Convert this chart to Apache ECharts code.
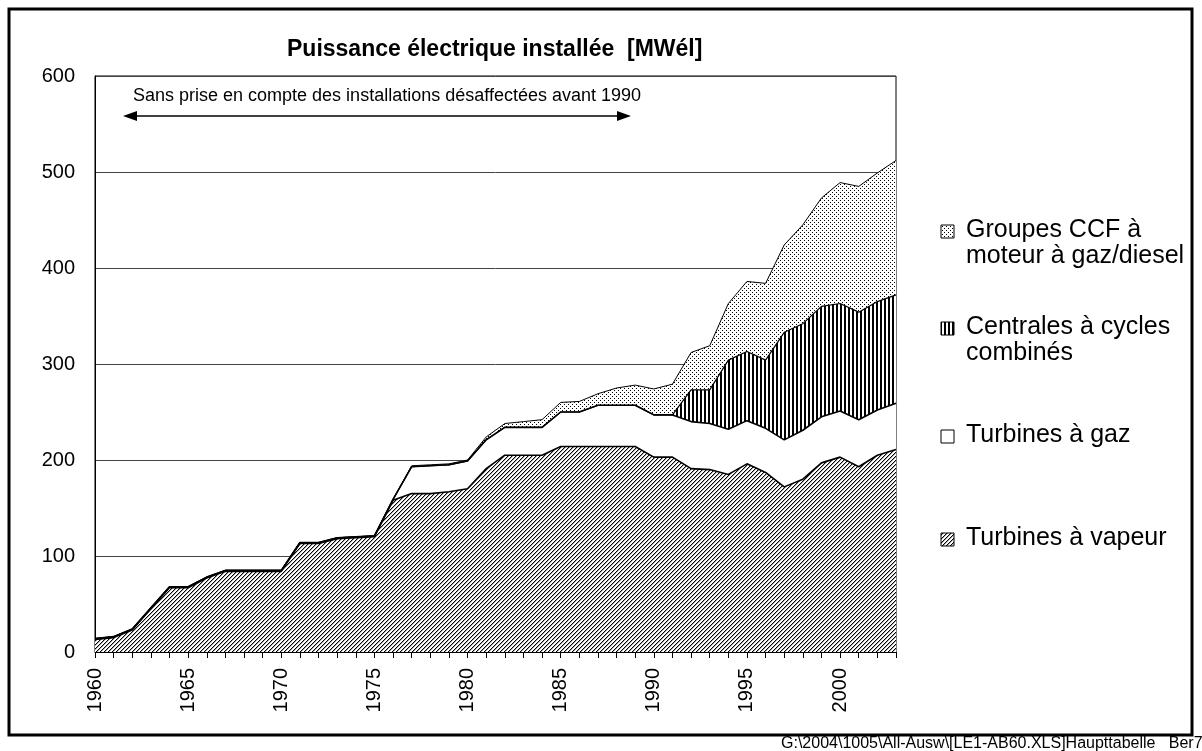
<!DOCTYPE html>
<html>
<head>
<meta charset="utf-8">
<script src="https://cdn.jsdelivr.net/npm/echarts@6/dist/echarts.min.js"></script>
<style>
  html, body { margin: 0; padding: 0; background: #fff; }
  #chart { width: 1202px; height: 751px; }
</style>
</head>
<body>
<div id="chart"></div>
<script>
const years = ['1960','1961','1962','1963','1964','1965','1966','1967','1968','1969',
  '1970','1971','1972','1973','1974','1975','1976','1977','1978','1979',
  '1980','1981','1982','1983','1984','1985','1986','1987','1988','1989',
  '1990','1991','1992','1993','1994','1995','1996','1997','1998','1999',
  '2000','2001','2002','2003']

// MWél per category, stacked bottom to top
const vapeur = [13, 15, 23, 45, 67, 67, 77, 84, 84, 84,
  84, 113, 113, 118, 119, 120, 158, 165, 165, 167,
  170, 191, 205, 205, 205, 214, 214, 214, 214, 214,
  203, 203, 191, 190, 185, 196, 187, 172, 180, 197,
  203, 193, 205, 211]
const gaz = [1, 1, 1, 1, 1, 1, 1, 1, 1, 1,
  1, 1, 1, 1, 1, 1, 1, 28, 29, 28,
  29, 30, 29, 29, 29, 36, 36, 43, 43, 43,
  44, 44, 49, 48, 47, 45, 46, 49, 51, 48,
  48, 49, 47, 48]
const cycles = [0, 0, 0, 0, 0, 0, 0, 0, 0, 0,
  0, 0, 0, 0, 0, 0, 0, 0, 0, 0,
  0, 0, 0, 0, 0, 0, 0, 0, 0, 0,
  0, 0, 33, 35, 72, 72, 71, 112, 111, 115,
  112, 112, 113, 113]
const ccf = [0, 0, 0, 0, 0, 0, 0, 0, 0, 0,
  0, 0, 0, 0, 0, 0, 0, 1, 1, 1,
  1, 3, 4, 6, 8, 10, 11, 12, 18, 21,
  27, 32, 39, 46, 59, 73, 80, 91, 103, 113,
  126, 131, 134, 140]

const yTicks = [0, 100, 200, 300, 400, 500, 600]

const FONT = '"Liberation Sans", Arial, Helvetica, sans-serif'

function pattern (w, h, draw) {
  const c = document.createElement('canvas')
  c.width = w
  c.height = h
  const ctx = c.getContext('2d')
  ctx.fillStyle = '#fff'
  ctx.fillRect(0, 0, w, h)
  draw(ctx)
  return { image: c, repeat: 'repeat' }
}

const hatch = pattern(4, 4, ctx => {
  for (let y = 0; y < 4; y++) {
    ctx.fillStyle = '#000'
    ctx.fillRect(3 - y, y, 1, 1)
    ctx.fillStyle = '#aaa'
    ctx.fillRect((4 - y) % 4, y, 1, 1)
  }
})
const stripes = pattern(4, 1, ctx => {
  ctx.fillStyle = '#000'
  ctx.fillRect(0, 0, 2, 1)
})
const dots = pattern(4, 4, ctx => {
  ctx.fillStyle = '#000'
  ctx.fillRect(0, 0, 1, 1)
  ctx.fillRect(2, 2, 1, 1)
})

function areaSeries (name, data, fill, width) {
  return {
    name: name,
    type: 'line',
    stack: 'total',
    data: data,
    symbol: 'none',
    smooth: false,
    lineStyle: { color: '#000', width: width },
    areaStyle: { color: fill, opacity: 1 },
    emphasis: { disabled: true },
    animation: false
  }
}

function legendItem (y, fill, label) {
  return [
    {
      type: 'rect',
      shape: { x: 941, y: y + 8, width: 13, height: 13 },
      style: { fill: fill, stroke: '#000', lineWidth: 1 }
    },
    {
      type: 'text',
      x: 966,
      y: y,
      style: { text: label, font: '25px ' + FONT, fill: '#000', lineHeight: 26 }
    }
  ]
}

const chart = echarts.init(document.getElementById('chart'))

const option = {
  backgroundColor: '#fff',
  animation: false,
  title: {
    text: 'Puissance électrique installée  [MWél]',
    left: 282,
    top: 33,
    textStyle: { fontFamily: FONT, fontSize: 23, fontWeight: 'bold', color: '#000' }
  },
  grid: {
    left: 95,
    right: 306,
    top: 76,
    bottom: 99,
    show: true,
    borderColor: '#000',
    borderWidth: 1,
    backgroundColor: 'transparent'
  },
  xAxis: {
    type: 'category',
    data: years,
    boundaryGap: false,
    axisLine: { lineStyle: { color: '#000', width: 1 } },
    axisTick: { show: true, interval: 0, length: 6, lineStyle: { color: '#000' } },
    axisLabel: {
      interval: (i, v) => Number(v) % 5 === 0,
      rotate: 90,
      margin: 16,
      fontFamily: FONT,
      fontSize: 20,
      color: '#000'
    },
    splitLine: { show: false }
  },
  yAxis: {
    type: 'value',
    min: yTicks[0],
    max: yTicks[yTicks.length - 1],
    interval: 100,
    axisLine: { show: true, lineStyle: { color: '#000', width: 1 } },
    axisTick: { show: false },
    axisLabel: { margin: 20, fontFamily: FONT, fontSize: 20, color: '#000' },
    splitLine: { lineStyle: { color: '#444', width: 1 } }
  },
  series: [
    areaSeries('Turbines à vapeur', vapeur, hatch, 1.6),
    areaSeries('Turbines à gaz', gaz, '#fff', 1.6),
    areaSeries('Centrales à cycles combinés', cycles, stripes, 1.2),
    areaSeries('Groupes CCF à moteur à gaz/diesel', ccf, dots, 1)
  ],
  graphic: [
    {
      type: 'rect',
      shape: { x: 9, y: 9, width: 1183, height: 726 },
      style: { fill: 'none', stroke: '#000', lineWidth: 3 }
    },
    {
      type: 'text',
      x: 133,
      y: 87,
      style: { text: 'Sans prise en compte des installations désaffectées avant 1990', font: '18px ' + FONT, fill: '#000' }
    },
    {
      type: 'line',
      shape: { x1: 132, y1: 116, x2: 622, y2: 116 },
      style: { stroke: '#000', lineWidth: 1.5 }
    },
    {
      type: 'polygon',
      shape: { points: [[123, 116], [137, 111], [137, 121]] },
      style: { fill: '#000' }
    },
    {
      type: 'polygon',
      shape: { points: [[631, 116], [617, 111], [617, 121]] },
      style: { fill: '#000' }
    },
    ...legendItem(217, dots, 'Groupes CCF à\nmoteur à gaz/diesel'),
    ...legendItem(314, stripes, 'Centrales à cycles\ncombinés'),
    ...legendItem(422, '#fff', 'Turbines à gaz'),
    ...legendItem(525, hatch, 'Turbines à vapeur'),
    {
      type: 'text',
      x: 781,
      y: 736,
      style: { text: 'G:\\2004\\1005\\All-Ausw\\[LE1-AB60.XLS]Haupttabelle   Ber7', font: '16px ' + FONT, fill: '#000' }
    }
  ]
}

chart.setOption(option)
</script>
</body>
</html>
